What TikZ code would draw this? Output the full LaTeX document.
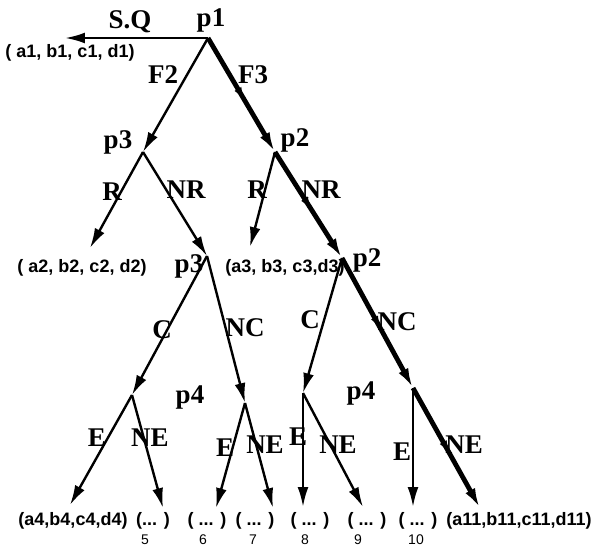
\documentclass[tikz,border=0pt]{standalone}
\usepackage{fontspec}
\setmainfont{Liberation Serif}
\newfontfamily\tuplefont{Liberation Sans}
\usetikzlibrary{arrows.meta, decorations.markings}

\begin{document}
\begin{tikzpicture}[
        x=0.5pt, y=-0.5pt,
        lbl/.style={font=\fontsize{13.5}{15}\selectfont\bfseries, inner sep=0pt},
        tuple/.style={font=\tuplefont\fontsize{9}{11}\selectfont\bfseries, inner sep=0pt},
        num/.style={font=\tuplefont\fontsize{7}{8}\selectfont, inner sep=0pt},
        edge/.style={-{Latex[length=3.5mm, width=1.9mm]}, line width=1.2pt},
        best/.style={edge, line width=2.4pt, postaction={decorate},
                     decoration={markings, mark=at position 0.55 with
                                 {\arrow{Latex[length=2.4mm, width=1.4mm]}}}},
    ]
        \useasboundingbox (0,0) rectangle (603,546);

        % decision points
        \coordinate (p1)  at (208,38);
        \coordinate (p3a) at (143,152);
        \coordinate (p2a) at (275,152);
        \coordinate (p3b) at (207,256);
        \coordinate (p2b) at (342,258);
        \coordinate (p4a) at (132,395);
        \coordinate (p4b) at (245,403);
        \coordinate (p4c) at (303,393);
        \coordinate (p4d) at (413,388);

        % arrow ends above the outcomes
        \coordinate (e1)  at (65,38);
        \coordinate (e2)  at (90,248);
        \coordinate (e3)  at (250,247);
        \coordinate (e4)  at (70,505);
        \coordinate (e5)  at (163,508);
        \coordinate (e6)  at (216,508);
        \coordinate (e7)  at (273,508);
        \coordinate (e8)  at (303,507);
        \coordinate (e9)  at (363,507);
        \coordinate (e10) at (413,507);
        \coordinate (e11) at (480,508);

        % point names
        \node[lbl] (np1)  at (211,20)  {p1};
        \node[lbl] (np3a) at (118,142) {p3};
        \node[lbl] (np2a) at (295,140) {p2};
        \node[lbl] (np3b) at (189,266) {p3};
        \node[lbl] (np2b) at (367,260) {p2};
        \node[lbl] (np4a) at (190,397) {p4};
        \node[lbl] (np4c) at (361,393) {p4};

        % outcomes
        \node[tuple] (t1)  at (70,53)   {( a1, b1, c1, d1)};
        \node[tuple] (t2)  at (82,268)  {( a2, b2, c2, d2)};
        \node[tuple] (t3)  at (285,268) {(a3, b3, c3,d3)};
        \node[tuple] (t4)  at (73,521)  {(a4,b4,c4,d4)};
        \node[tuple] (t5)  at (153,521) {(... )};
        \node[tuple] (t6)  at (207,521) {( ... )};
        \node[tuple] (t7)  at (255,521) {( ... )};
        \node[tuple] (t8)  at (310,521) {( ... )};
        \node[tuple] (t9)  at (367,521) {( ... )};
        \node[tuple] (t10) at (418,521) {( ... )};
        \node[tuple] (t11) at (519,521) {(a11,b11,c11,d11)};

        \node[num] (n5)  at (145,540) {5};
        \node[num] (n6)  at (203,540) {6};
        \node[num] (n7)  at (253,540) {7};
        \node[num] (n8)  at (305,540) {8};
        \node[num] (n9)  at (358,540) {9};
        \node[num] (n10) at (416,540) {10};

        % branches
        \draw[edge] (p1) -- (e1);
        \node[lbl] (lsq) at (130,22) {S.Q};
        \draw[edge] (p1) -- (p3a);
        \node[lbl] (lf2) at (163,75) {F2};
        \draw[best] (p1) -- (p2a);
        \node[lbl] (lf3) at (253,75) {F3};

        \draw[edge] (p3a) -- (e2);
        \node[lbl] (lr1) at (112,192) {R};
        \draw[edge] (p3a) -- (p3b);
        \node[lbl] (lnr1) at (186,190) {NR};
        \draw[edge] (p2a) -- (e3);
        \node[lbl] (lr2) at (257,190) {R};
        \draw[best] (p2a) -- (p2b);
        \node[lbl] (lnr2) at (321,190) {NR};

        \draw[edge] (p3b) -- (p4a);
        \node[lbl] (lc1) at (162,330) {C};
        \draw[edge] (p3b) -- (p4b);
        \node[lbl] (lnc1) at (245,328) {NC};
        \draw[edge] (p2b) -- (p4c);
        \node[lbl] (lc2) at (310,320) {C};
        \draw[best] (p2b) -- (p4d);
        \node[lbl] (lnc2) at (397,322) {NC};

        \draw[edge] (p4a) -- (e4);
        \node[lbl] (le1) at (97,438) {E};
        \draw[edge] (p4a) -- (e5);
        \node[lbl] (lne1) at (150,438) {NE};
        \draw[edge] (p4b) -- (e6);
        \node[lbl] (le2) at (225,448) {E};
        \draw[edge] (p4b) -- (e7);
        \node[lbl] (lne2) at (265,445) {NE};
        \draw[edge] (p4c) -- (e8);
        \node[lbl] (le3) at (298,437) {E};
        \draw[edge] (p4c) -- (e9);
        \node[lbl] (lne3) at (338,445) {NE};
        \draw[edge] (p4d) -- (e10);
        \node[lbl] (le4) at (402,452) {E};
        \draw[best] (p4d) -- (e11);
        \node[lbl] (lne4) at (464,445) {NE};
    \end{tikzpicture}
\end{document}
